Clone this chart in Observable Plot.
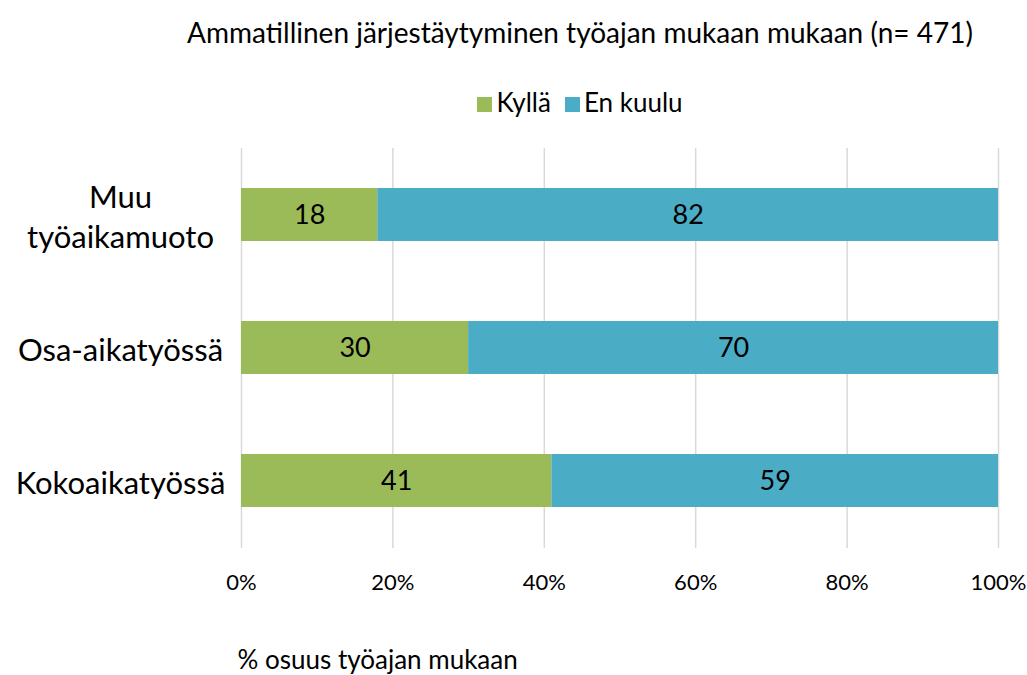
<!DOCTYPE html>
<html>
<head>
<meta charset="utf-8">
<script src="https://cdn.jsdelivr.net/npm/d3@7"></script>
<script src="https://cdn.jsdelivr.net/npm/@observablehq/plot@0.6"></script>
<style>
  body { margin: 0; background: #fff; font-family: Lato, "Open Sans", sans-serif; }
  #wrap { position: relative; width: 1027px; height: 675px; overflow: hidden; }
  #title { height: 64px; width: 1160px; text-align: center; font-size: 28px; line-height: 64px; color: #000; }
  #legend { height: 56px; width: 1160px; display: flex; justify-content: center; align-items: center; gap: 14px; font-size: 26px; color: #000; padding-top: 0; position: relative; top: 10px; }
  .sw { display: inline-block; width: 15px; height: 15px; margin-right: 4px; vertical-align: 0px; }
</style>
</head>
<body>
<div id="wrap">
  <div id="title">Ammatillinen järjestäytyminen työajan mukaan mukaan (n= 471)</div>
  <div id="legend"></div>
  <div id="chart" style="position:absolute; top:120px; left:0;"></div>
</div>
<script>
const categories = ["Muu työaikamuoto", "Osa-aikatyössä", "Kokoaikatyössä"];
const series = ["Kyllä", "En kuulu"];
const kylla = [18, 30, 41];
const enKuulu = [82, 70, 59];
const xTicks = [0, 20, 40, 60, 80, 100];
const colors = ["#9bbb59", "#4bacc6"];
const xLabel = "% osuus työajan mukaan";

const data = [];
categories.forEach((c, i) => {
  data.push({cat: c, series: series[0], value: kylla[i]});
  data.push({cat: c, series: series[1], value: enKuulu[i]});
});

const legend = document.getElementById("legend");
series.forEach((s, i) => {
  const span = document.createElement("span");
  span.innerHTML = `<span class="sw" style="background:${colors[i]}"></span>${s}`;
  legend.appendChild(span);
});

const chart = Plot.plot({
  width: 1027,
  height: 555,
  marginTop: 28,
  marginBottom: 127,
  marginLeft: 241,
  marginRight: 29,
  style: {fontFamily: "Lato, 'Open Sans', sans-serif", color: "#000", background: "#fff"},
  x: {domain: [0, 100], ticks: xTicks, tickFormat: d => d + "%"},
  y: {domain: categories, paddingInner: 0.6, paddingOuter: 0.3},
  color: {domain: series, range: colors},
  marks: [
    Plot.gridX(xTicks, {stroke: "#d9d9d9", strokeOpacity: 1, strokeWidth: 1.5}),
    Plot.barX(data, Plot.stackX({y: "cat", x: "value", fill: "series", order: series})),
    Plot.text(data, Plot.stackX({y: "cat", x: "value", z: "series", order: series, text: d => d.value, fontSize: 27, fill: "#000"})),
    Plot.axisX({ticks: xTicks, tickFormat: d => d + "%", tickSize: 0, tickPadding: 26, fontSize: 22, label: null}),
    Plot.axisY({tickSize: 0, tickPadding: 0, fontSize: 31, textAnchor: "middle", dx: -121, label: null,
      tickFormat: d => d === "Muu työaikamuoto" ? "Muu\ntyöaikamuoto" : d, lineHeight: 1.3}),
    Plot.text([xLabel], {frameAnchor: "bottom-left", text: d => d, textAnchor: "start", dx: -4, dy: 120, fontSize: 26, fill: "#000"})
  ]
});
document.getElementById("chart").appendChild(chart);
</script>
</body>
</html>
